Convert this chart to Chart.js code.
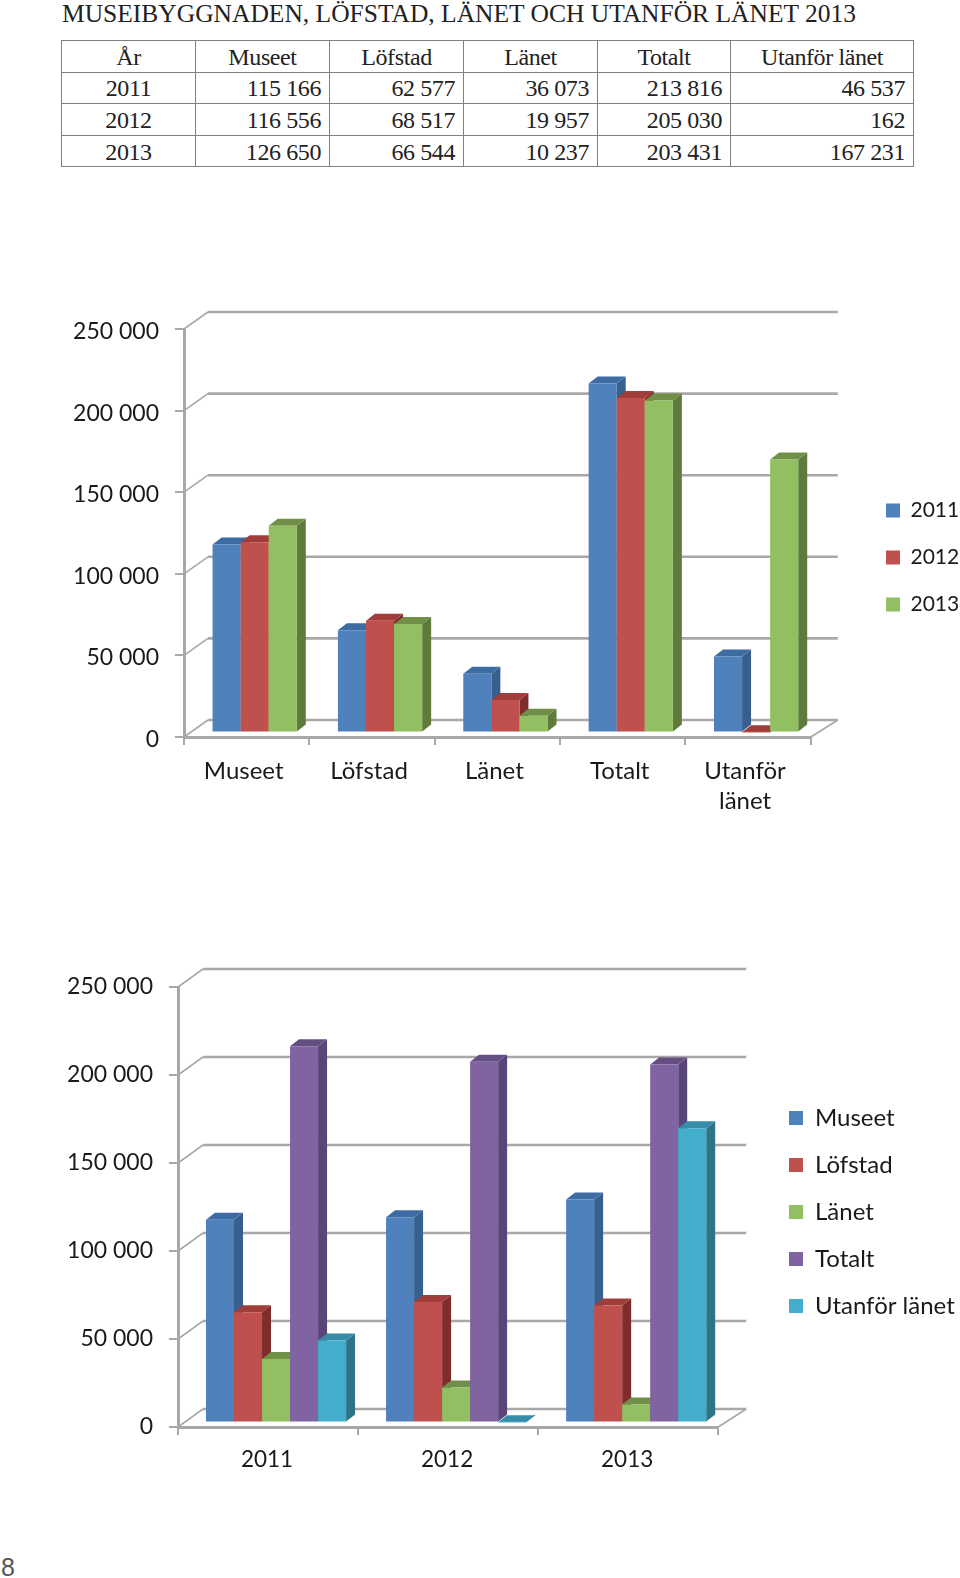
<!DOCTYPE html>
<html>
<head>
<meta charset="utf-8">
<script src="https://cdn.jsdelivr.net/npm/chart.js@4"></script>
<style>
  html, body { margin: 0; padding: 0; background: #fff; }
  body { position: relative; width: 960px; height: 1578px; overflow: hidden; }
  #title {
    position: absolute; left: 62px; top: 0; white-space: nowrap;
    font: 25.5px/28px "Liberation Serif", serif; color: #222;
  }
  #tbl {
    position: absolute; left: 61px; top: 40px; width: 852px; border-collapse: collapse;
    table-layout: fixed; font: 24px/28px "Liberation Serif", serif; color: #222;
  }
  #tbl td { border: 1px solid #808080; height: 29.6px; padding: 1px 8px 0 0; text-align: right; letter-spacing: -0.4px; }
  #tbl tr:first-child td, #tbl td:first-child { text-align: center; padding: 1px 0 0 0; }
  .wrap { position: absolute; left: 0; width: 960px; }
  #page { position: absolute; left: 1px; top: 1555px; font: 25px/25px "Liberation Sans", sans-serif; color: #555; }
</style>
</head>
<body>
<div id="title">MUSEIBYGGNADEN, LÖFSTAD, LÄNET OCH UTANFÖR LÄNET 2013</div>
<table id="tbl"></table>
<div class="wrap" style="top:290px;height:540px"><canvas id="chartA"></canvas></div>
<div class="wrap" style="top:945px;height:530px"><canvas id="chartB"></canvas></div>
<div id="page">8</div>
<script>
const years = ["2011", "2012", "2013"];
const measures = ["Museet", "Löfstad", "Länet", "Totalt", "Utanför länet"];
const measureLabels = ["Museet", "Löfstad", "Länet", "Totalt", ["Utanför", "länet"]];

const values2011 = [115166, 62577, 36073, 213816, 46537];
const values2012 = [116556, 68517, 19957, 205030, 162];
const values2013 = [126650, 66544, 10237, 203431, 167231];

const museet = [115166, 116556, 126650];
const lofstad = [62577, 68517, 66544];
const lanet = [36073, 19957, 10237];
const totalt = [213816, 205030, 203431];
const utanfor = [46537, 162, 167231];

const front = ["#4f81bd", "#c0504d", "#93bf63", "#8064a2", "#42aecb"];
const side = ["#38608f", "#7f2d2c", "#5f7a3b", "#5a4578", "#2f7389"];
const top3d = ["#3d6ba3", "#a03c3a", "#728f47", "#644e82", "#378da8"];

const fmt = n => String(n).replace(/\B(?=(\d{3})+$)/g, " ");

const rows = [
  ["År", "Museet", "Löfstad", "Länet", "Totalt", "Utanför länet"],
  ...years.map((y, i) => [y, fmt(museet[i]), fmt(lofstad[i]), fmt(lanet[i]), fmt(totalt[i]), fmt(utanfor[i])]),
];
const colWidths = [134, 134, 134, 134, 133, 183];
document.getElementById("tbl").innerHTML =
  "<colgroup>" + colWidths.map(w => `<col style="width:${w}px">`).join("") + "</colgroup>" +
  rows.map(r => "<tr>" + r.map(c => `<td>${c}</td>`).join("") + "</tr>").join("");

// fake 3D look: back wall + floor, and side/top faces for every bar
const box3d = {
  id: "box3d",
  afterLayout(chart, args, o) {
    const l = chart.legend;
    const dx = o.legendX - l.left, dy = o.legendTop - l.top;
    l.left += dx; l.right += dx; l.top += dy; l.bottom += dy;
  },
  beforeDatasetsDraw(chart, args, o) {
    const { ctx, chartArea: a, scales: { y } } = chart;
    ctx.save();
    ctx.strokeStyle = "#a8a8a8";
    y.ticks.forEach(t => {
      const py = y.getPixelForValue(t.value);
      ctx.lineWidth = 1.6;
      ctx.beginPath();
      ctx.moveTo(a.left, py);
      ctx.lineTo(a.left + o.wallX, py - o.wallY);
      ctx.stroke();
      ctx.lineWidth = 2.6;
      ctx.beginPath();
      ctx.moveTo(a.left + o.wallX, py - o.wallY);
      ctx.lineTo(a.right + o.wallX + 3, py - o.wallY);
      ctx.stroke();
    });
    const py0 = y.getPixelForValue(0);
    ctx.lineWidth = 1.6;
    ctx.beginPath();
    ctx.moveTo(a.right + o.wallX + 3, py0 - o.wallY);
    ctx.lineTo(a.right, py0);
    ctx.stroke();
    ctx.restore();
  },
  // chart.js paints the first dataset last, here the later series must cover the earlier ones
  beforeDatasetDraw() {
    return false;
  },
  afterDatasetsDraw(chart, args, o) {
    const { ctx } = chart;
    chart.data.datasets.forEach((ds, i) => {
      const meta = chart.getDatasetMeta(i);
      ctx.save();
      ctx.translate(o.shiftX, -o.shiftY);
      meta.data.forEach(bar => {
        const p = bar.getProps(["x", "y", "base", "width"], true);
        const l = p.x - p.width / 2, r = p.x + p.width / 2;
        ctx.fillStyle = side[o.colors[i]];
        ctx.beginPath();
        ctx.moveTo(r, p.y);
        ctx.lineTo(r + o.depthX, p.y - o.depthY);
        ctx.lineTo(r + o.depthX, p.base - o.depthY);
        ctx.lineTo(r, p.base);
        ctx.closePath();
        ctx.fill();
        ctx.fillStyle = top3d[o.colors[i]];
        ctx.beginPath();
        ctx.moveTo(l, p.y);
        ctx.lineTo(l + o.depthX, p.y - o.depthY);
        ctx.lineTo(r + o.depthX, p.y - o.depthY);
        ctx.lineTo(r, p.y);
        ctx.closePath();
        ctx.fill();
      });
      meta.controller.draw();
      ctx.restore();
    });
  },
};

function makeChart(id, cfg) {
  const family = "Lato, sans-serif";
  return new Chart(document.getElementById(id), {
    type: "bar",
    plugins: [box3d],
    data: {
      labels: cfg.labels,
      datasets: cfg.series.map(s => ({
        label: s.name,
        data: s.data,
        backgroundColor: front[s.color],
        borderWidth: 0,
        clip: false,
        categoryPercentage: cfg.groupShare,
        barPercentage: 1,
      })),
    },
    options: {
      responsive: false,
      animation: false,
      layout: { padding: { top: cfg.padTop, right: cfg.padRight, bottom: 0, left: 0 } },
      scales: {
        x: {
          grid: { drawOnChartArea: false, color: "#a8a8a8", lineWidth: 2, tickLength: 8 },
          border: { color: "#a8a8a8", width: 3 },
          ticks: {
            color: "#1a1a1a",
            font: { family, size: cfg.xFont, lineHeight: 1.27 },
            maxRotation: 0,
            autoSkip: false,
            padding: cfg.xPad,
            labelOffset: cfg.xShift,
          },
          afterFit: s => { s.height = cfg.xHeight; },
        },
        y: {
          min: 0,
          max: 250000,
          grid: { drawOnChartArea: false, color: "#a8a8a8", lineWidth: 2, tickLength: 9 },
          border: { color: "#a8a8a8", width: 3 },
          ticks: {
            stepSize: 50000,
            color: "#1a1a1a",
            font: { family, size: 23 },
            padding: 16,
            labelOffset: cfg.yShift,
            callback: v => fmt(v),
          },
          afterFit: s => { s.width = cfg.yWidth; },
        },
      },
      plugins: {
        tooltip: { enabled: false },
        legend: {
          position: "right",
          align: "start",
          labels: {
            boxWidth: 14,
            boxHeight: 14,
            padding: cfg.legendPad,
            color: "#1a1a1a",
            font: { family, size: cfg.legendFont },
          },
        },
        box3d: {
          wallX: cfg.wallX, wallY: cfg.wallY, shiftX: 8, shiftY: 4.5, depthX: 9, depthY: 7,
          colors: cfg.series.map(s => s.color), legendX: cfg.legendX, legendTop: cfg.legendTop,
        },
      },
    },
  });
}

function sizeCanvas(id, w, h) {
  const c = document.getElementById(id);
  c.width = w; c.height = h;
  c.style.width = w + "px"; c.style.height = h + "px";
}
sizeCanvas("chartA", 960, 540);
sizeCanvas("chartB", 960, 530);

makeChart("chartA", {
  labels: measureLabels,
  series: [
    { name: years[0], data: values2011, color: 0 },
    { name: years[1], data: values2012, color: 1 },
    { name: years[2], data: values2013, color: 2 },
  ],
  groupShare: 0.672,
  padTop: 39,
  padRight: 40,
  xHeight: 93,
  xFont: 24,
  xPad: 11,
  xShift: -3,
  yShift: 2.5,
  yWidth: 184,
  wallX: 24,
  wallY: 17,
  legendX: 860,
  legendTop: 184,
  legendFont: 21,
  legendPad: 26,
});

makeChart("chartB", {
  labels: years,
  series: [
    { name: measures[0], data: museet, color: 0 },
    { name: measures[1], data: lofstad, color: 1 },
    { name: measures[2], data: lanet, color: 2 },
    { name: measures[3], data: totalt, color: 3 },
    { name: measures[4], data: utanfor, color: 4 },
  ],
  groupShare: 0.778,
  padTop: 42,
  padRight: 43,
  xHeight: 48,
  xFont: 22.5,
  xPad: 10,
  xShift: -1,
  yShift: 0,
  yWidth: 178,
  wallX: 25,
  wallY: 18,
  legendX: 766,
  legendTop: 138,
  legendFont: 24,
  legendPad: 23,
});
</script>
</body>
</html>
